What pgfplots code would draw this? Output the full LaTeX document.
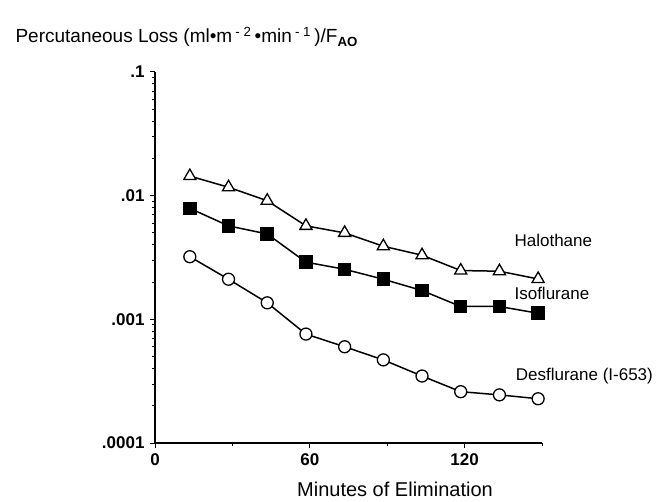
\documentclass[border=0pt]{standalone}
\usepackage{fontspec}
\setmainfont{Liberation Sans}
\usepackage{pgfplots}
\pgfplotsset{compat=1.18}

\begin{document}
\begin{tikzpicture}
% canvas of the reference, 1pt = 1px
\path (-155pt,-59pt) rectangle (513pt,443pt);
\begin{axis}[
    at={(0pt,0pt)}, anchor=south west,
    width=387pt, height=371pt, scale only axis,
    xmin=0, xmax=150,
    ymode=log, ymin=1e-4, ymax=0.1,
    axis lines*=left,
    axis line style={line width=1.3pt},
    xtick={0,60,120}, xticklabels={0,60,120},
    minor xtick={30,90,150},
    ytick={0.0001,0.001,0.01,0.1},
    yticklabels={.0001,.001,.01,.1},
    minor ytick={2e-4,3e-4,4e-4,5e-4,6e-4,7e-4,8e-4,9e-4,
                 2e-3,3e-3,4e-3,5e-3,6e-3,7e-3,8e-3,9e-3,
                 2e-2,3e-2,4e-2,5e-2,6e-2,7e-2,8e-2,9e-2},
    tick align=outside,
    major tick length=5pt, minor tick length=3pt,
    every tick/.style={black, line width=1pt},
    ticklabel style={font=\fontsize{17}{17}\selectfont\bfseries},
    yticklabel style={xshift=-2pt},
    xticklabel style={yshift=-2pt},
    clip=false,
    every axis plot/.append style={black, line width=1.5pt},
]
\addplot[mark=triangle*, mark options={fill=white, line width=1.3pt}, mark size=7pt] coordinates {
    (13.5,0.0144) (28.5,0.0117) (43.5,0.0091) (58.5,0.0057) (73.5,0.0050)
    (88.5,0.0039) (103.5,0.0033) (118.5,0.00248) (133.5,0.00245) (148.5,0.00212)
};
\addplot[mark=square*, mark options={fill=black}, mark size=6pt] coordinates {
    (13.5,0.0079) (28.5,0.0057) (43.5,0.0049) (58.5,0.0029) (73.5,0.00254)
    (88.5,0.00211) (103.5,0.00171) (118.5,0.00127) (133.5,0.00127) (148.5,0.00112)
};
\addplot[mark=*, mark options={fill=white, line width=1.3pt}, mark size=6pt] coordinates {
    (13.5,0.00321) (28.5,0.00211) (43.5,0.00136) (58.5,0.00076) (73.5,0.00060)
    (88.5,0.00047) (103.5,0.000348) (118.5,0.00026) (133.5,0.000245) (148.5,0.000228)
};
\node[anchor=west, font=\fontsize{17}{17}\selectfont] at (axis cs:138,0.00431) {Halothane};
\node[anchor=west, font=\fontsize{17}{17}\selectfont] at (axis cs:138,0.00163) {Isoflurane};
\node[anchor=west, font=\fontsize{17}{17}\selectfont] at (axis cs:138.5,0.000349) {Desflurane (I-653)};
\end{axis}
\node[anchor=base west, font=\fontsize{19}{19}\selectfont] at (-143pt,400pt)
    {Percutaneous Loss (ml•m\,\textsuperscript{-\;2}\,•min\,\textsuperscript{-\;1}\,)/F\textsubscript{\bfseries AO}};
\node[anchor=base, font=\fontsize{20}{20}\selectfont] at (240pt,-54pt) {Minutes of Elimination};
\end{tikzpicture}
\end{document}
